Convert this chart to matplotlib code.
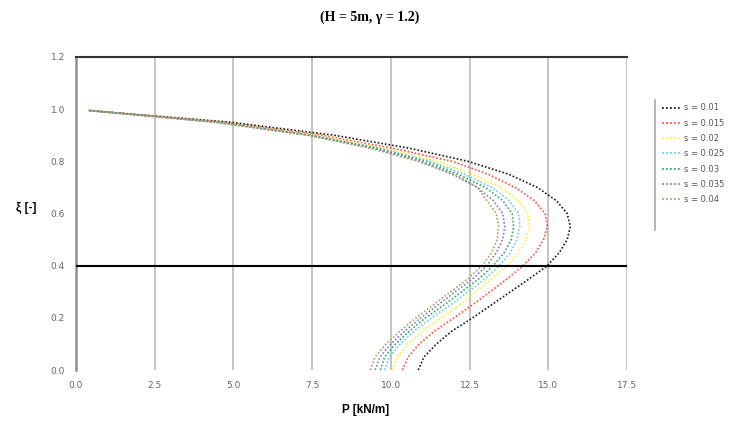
import matplotlib.pyplot as plt
from matplotlib.lines import Line2D

# depth ratio xi (shared by all series)
xi = [0.0, 0.05, 0.10, 0.15, 0.20, 0.25, 0.30, 0.35, 0.40, 0.45, 0.50,
      0.55, 0.60, 0.65, 0.70, 0.75, 0.80, 0.85, 0.90, 0.95, 0.995]

labels = ["s = 0.01", "s = 0.015", "s = 0.02", "s = 0.025",
          "s = 0.03", "s = 0.035", "s = 0.04"]
colors = ["#1a1a1a", "#ff4b3a", "#ffee33", "#66ccee", "#33aa66", "#8877cc", "#a4a464"]

P_001 = [10.87, 11.05, 11.45, 11.95, 12.6, 13.2, 13.8, 14.4, 14.97, 15.35, 15.6,
         15.7, 15.6, 15.25, 14.65, 13.75, 12.45, 10.6, 8.2, 4.9, 0.4]
P_0015 = [10.37, 10.55, 10.9, 11.4, 12.0, 12.6, 13.15, 13.7, 14.2, 14.6, 14.85,
          14.97, 14.9, 14.55, 13.95, 13.1, 11.95, 10.05, 7.8, 4.7, 0.4]
P_002 = [10.05, 10.2, 10.55, 11.0, 11.6, 12.2, 12.7, 13.2, 13.7, 14.05, 14.3,
         14.4, 14.35, 14.05, 13.5, 12.6, 11.45, 9.8, 7.6, 4.6, 0.4]
P_0025 = [9.8, 9.95, 10.3, 10.75, 11.3, 11.9, 12.45, 13.0, 13.45, 13.8, 14.0,
          14.1, 14.05, 13.75, 13.2, 12.35, 11.25, 9.65, 7.5, 4.5, 0.4]
P_003 = [9.67, 9.8, 10.15, 10.6, 11.1, 11.7, 12.25, 12.8, 13.25, 13.6, 13.82,
         13.9, 13.85, 13.55, 13.0, 12.15, 11.1, 9.55, 7.45, 4.5, 0.4]
P_0035 = [9.5, 9.65, 10.0, 10.45, 10.95, 11.5, 12.05, 12.6, 13.05, 13.35, 13.55,
          13.62, 13.55, 13.25, 12.75, 11.95, 10.95, 9.45, 7.4, 4.45, 0.4]
P_004 = [9.35, 9.5, 9.85, 10.3, 10.8, 11.35, 11.9, 12.45, 12.9, 13.2, 13.38,
         13.42, 13.35, 13.05, 12.75, 12.05, 10.85, 9.35, 7.35, 4.4, 0.4]

series = [P_001, P_0015, P_002, P_0025, P_003, P_0035, P_004]

xticks = [0.0, 2.5, 5.0, 7.5, 10.0, 12.5, 15.0, 17.5]
yticks = [0.0, 0.2, 0.4, 0.6, 0.8, 1.0, 1.2]

fig = plt.figure(figsize=(7.34, 4.23), dpi=100)
ax = fig.add_axes([76 / 734, 1 - 370 / 423, (627 - 76) / 734, (370 - 57) / 423])

for P, c in zip(series, colors):
    ax.plot(P, xi, color=c, linestyle=(0, (1, 1.2)), linewidth=1.2)

ax.set_xlim(0, 17.5)
ax.set_ylim(0, 1.2)
ax.set_xticks(xticks)
ax.set_yticks(yticks)
ax.set_xticklabels(["%.1f" % t for t in xticks])
ax.set_yticklabels(["%.1f" % t for t in yticks])
ax.tick_params(length=0, labelsize=6.5, labelcolor="#666666", pad=8)

for x in xticks[1:]:
    ax.axvline(x, color="#b4b4b4", linewidth=1.1, zorder=0)
ax.axhline(0.4, color="black", linewidth=1.5, zorder=3)

ax.spines["bottom"].set_visible(False)
ax.spines["right"].set_visible(False)
ax.spines["left"].set_color("#909090")
ax.spines["left"].set_linewidth(1.8)
ax.spines["top"].set_color("#333333")
ax.spines["top"].set_linewidth(1.5)

fig.text(370 / 734, 1 - 17 / 423, "(H = 5m, γ = 1.2)", ha="center", va="center",
         fontsize=10, fontweight="bold", family="Liberation Serif")
fig.text(366 / 734, 1 - 410 / 423, "P [kN/m]", ha="center", va="center",
         fontsize=8.5, fontweight="bold", family="Liberation Sans")
fig.text(26 / 734, 1 - 208 / 423, "ξ [-]", ha="center", va="center",
         fontsize=8.5, fontweight="bold", family="Liberation Sans")

# legend on the right
fig.add_artist(Line2D([655 / 734, 655 / 734], [1 - 100 / 423, 1 - 230 / 423],
                      color="#aaaaaa", linewidth=1.2))
handles = [Line2D([], [], color=c, linestyle=(0, (1, 1.2)), linewidth=1.3) for c in colors]
fig.legend(handles, labels, loc="upper left", bbox_to_anchor=(654 / 734, 1 - 96 / 423),
           frameon=False, fontsize=6, handlelength=2.2, handletextpad=0.5,
           labelspacing=0.75, labelcolor="#555555")

fig.savefig("out.png", dpi=100)
